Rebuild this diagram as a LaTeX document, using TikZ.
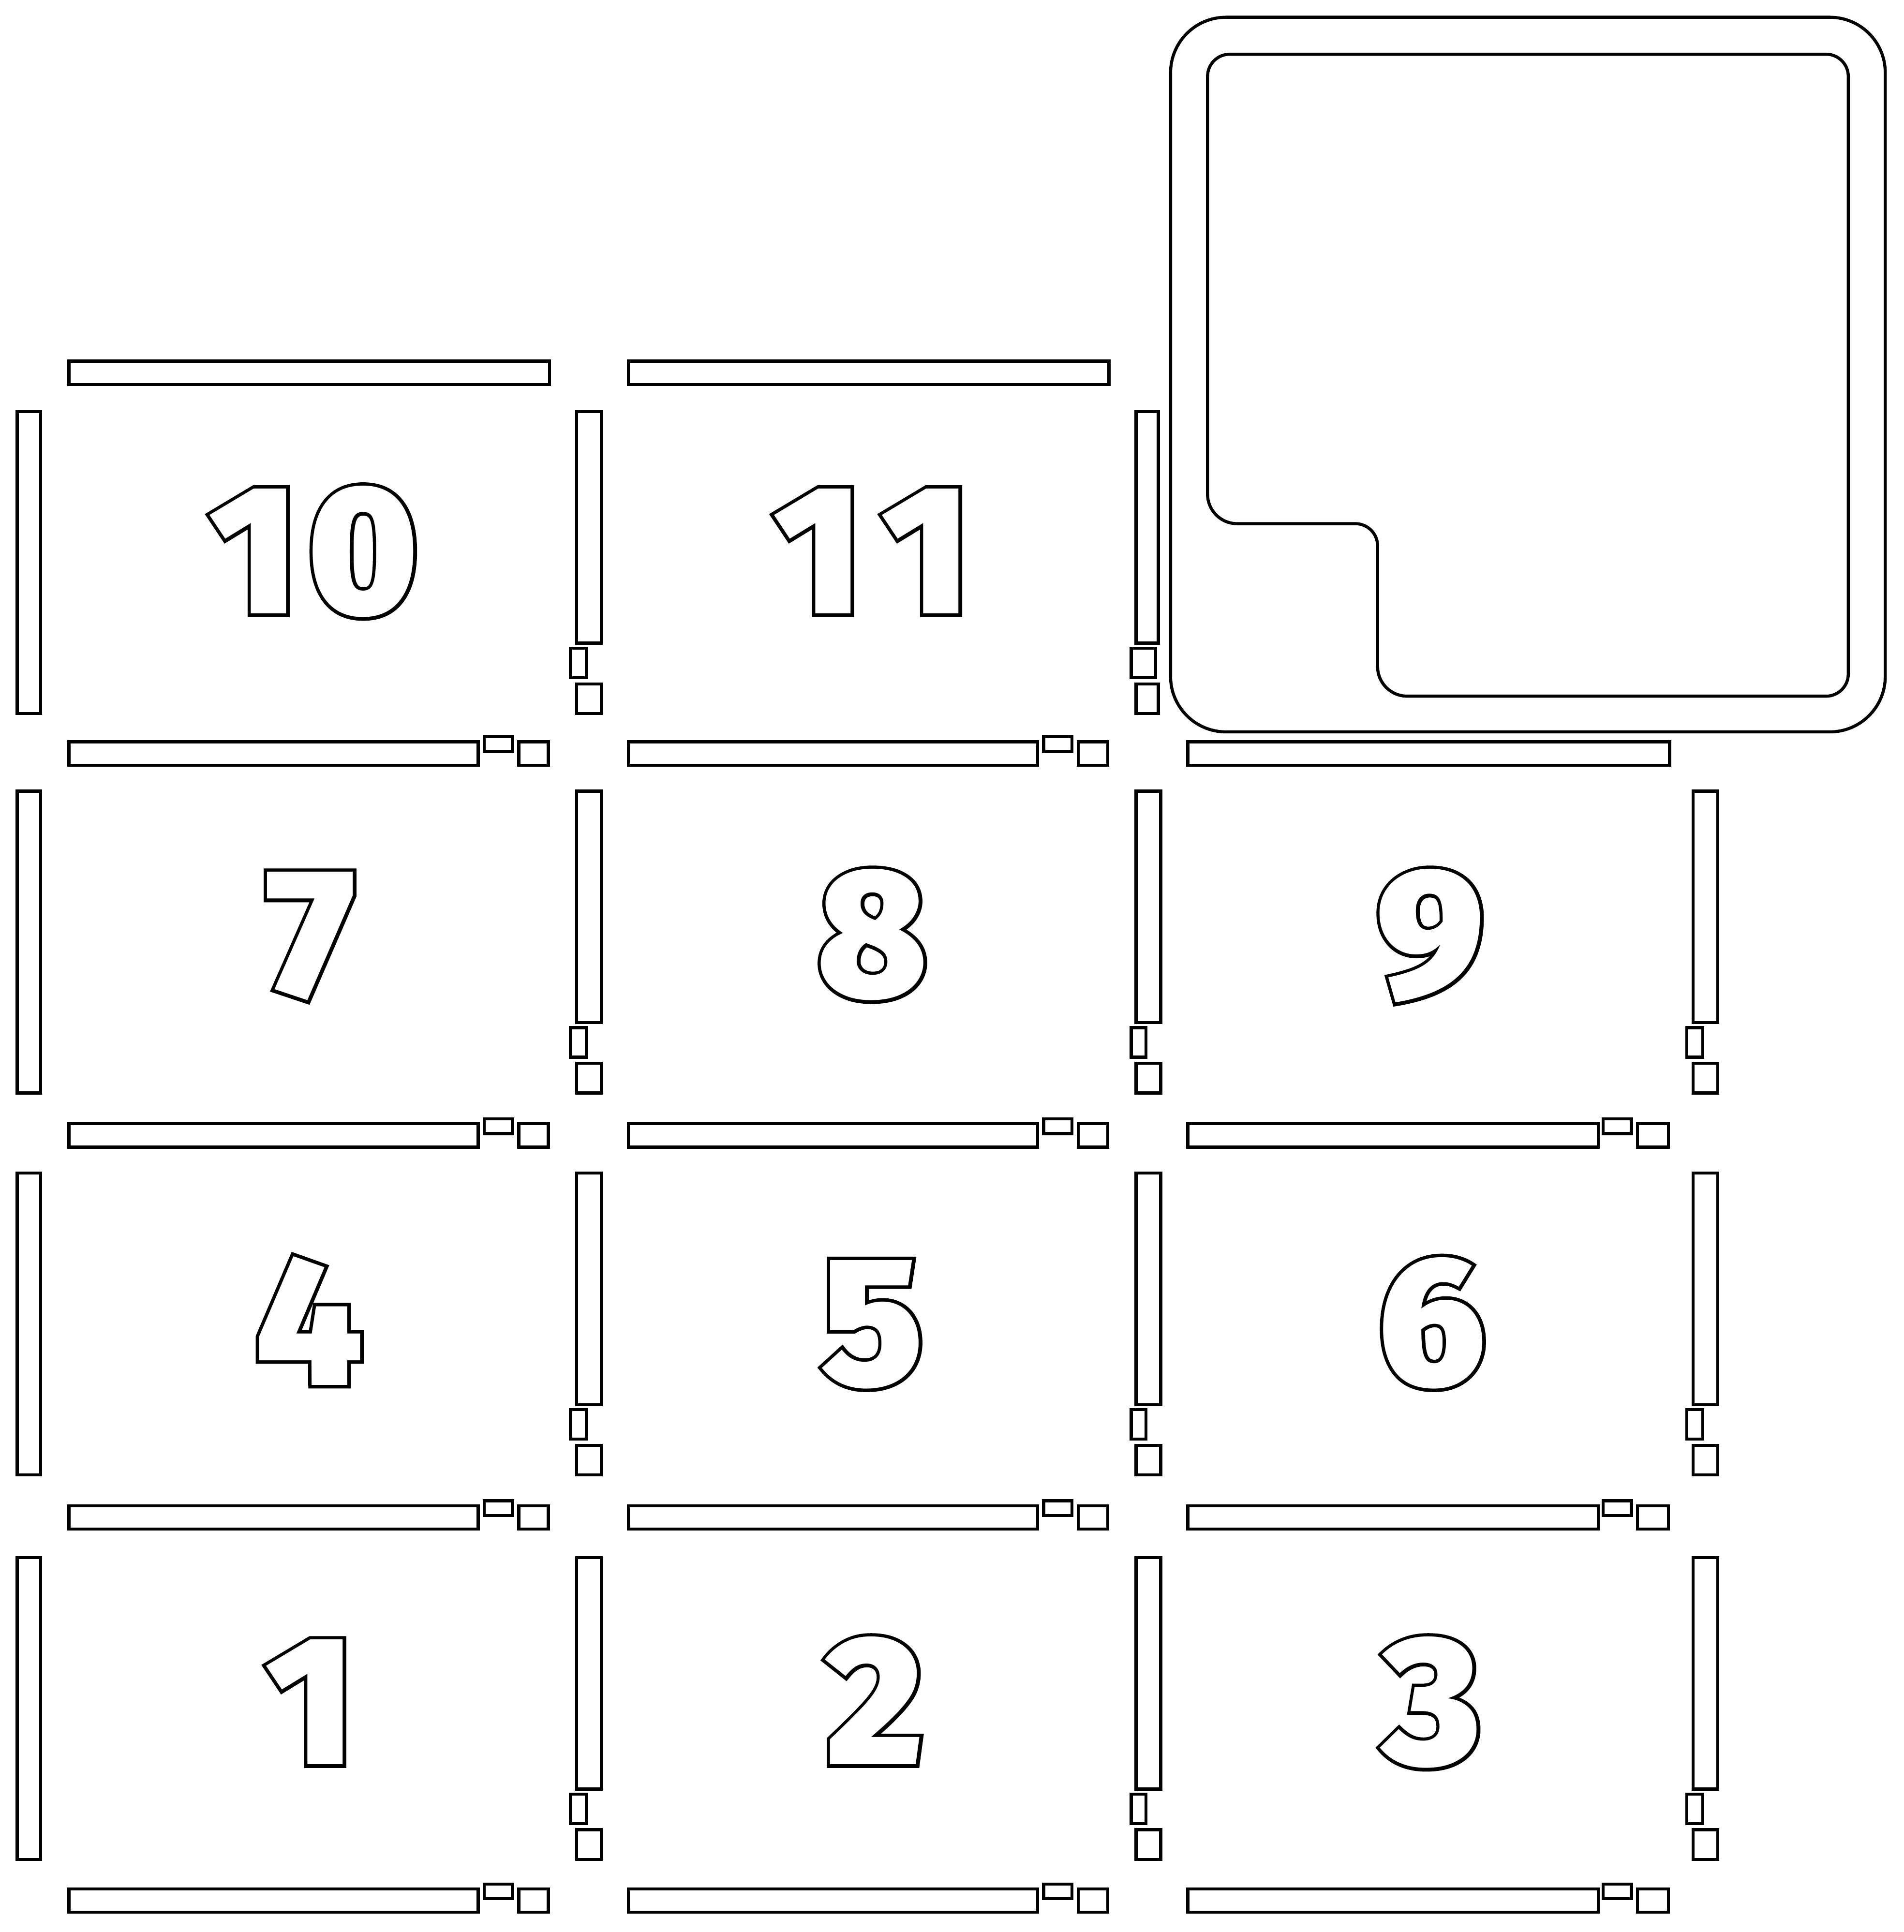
\documentclass[tikz,border=0pt]{standalone}
\usepackage{fontspec}
\newfontfamily\digitfont{Fira Sans Black}
\newfontfamily\digitbold{Fira Sans Black}[FakeBold=3.8]
\newcommand{\outl}[1]{\rlap{\digitbold\color{black}#1}{\digitfont\color{white}#1}}
\begin{document}
\begin{tikzpicture}[x=1pt,y=-1pt,
  part/.style={draw=black, fill=white, line width=2.5pt},
  numlabel/.style={inner sep=0pt, anchor=base, font=\fontsize{149}{155}\selectfont}]
\useasboundingbox (0,0) rectangle (1545,1568);

% big rounded box
\draw[part, rounded corners=45pt] (950,14) rectangle (1530,594);
\draw[part] (998,44) -- (1482,44) arc[start angle=-90,end angle=0,radius=18]
  -- (1500,547) arc[start angle=0,end angle=90,radius=18]
  -- (1142,565) arc[start angle=90,end angle=180,radius=24]
  -- (1118,443) arc[start angle=0,end angle=-90,radius=18]
  -- (1004,425) arc[start angle=90,end angle=180,radius=24]
  -- (980,62) arc[start angle=180,end angle=270,radius=18] -- cycle;

% top bars
\draw[part] (56,293) rectangle (446,312);
\draw[part] (510,293) rectangle (900,312);

% left bars
\foreach \T in {334,642,952,1264} {
  \draw[part] (14,\T) rectangle (33,\T+245);
}

% row 4 vertical pieces
\draw[part] (468,334) rectangle (488,522);
\draw[part] (463,526) rectangle (476,550);
\draw[part] (468,555) rectangle (488,579);
\draw[part] (922,334) rectangle (940,522);
\draw[part] (918,526) rectangle (938,550);
\draw[part] (922,555) rectangle (940,579);

% rows 1-3 vertical pieces
\foreach \T in {642,952,1264} {
  \foreach \xa/\xb/\sa/\sb in {468/488/463/476, 922/942/918/930, 1374/1394/1369/1382} {
    \draw[part] (\xa,\T) rectangle (\xb,\T+188);
    \draw[part] (\sa,\T+192) rectangle (\sb,\T+216);
    \draw[part] (\xa,\T+221) rectangle (\xb,\T+245);
  }
}

% bottom bars
\foreach \B in {602,912,1222,1533} {
  \foreach \c in {0,1} {
    \draw[part] (56+454*\c,\B) rectangle (388+454*\c,\B+19);
    \draw[part] (393+454*\c,\B-4) rectangle (416+454*\c,\B+8);
    \draw[part] (421+454*\c,\B) rectangle (445+454*\c,\B+19);
  }
}
\foreach \B in {912,1222,1533} {
  \draw[part] (964,\B) rectangle (1297,\B+19);
  \draw[part] (1301,\B-4) rectangle (1324,\B+8);
  \draw[part] (1329,\B) rectangle (1354,\B+19);
}
\draw[part] (964,602) rectangle (1355,621);

% digits
\node[numlabel] (n10) at (255,498) {\outl{1\kern8pt 0}};
\node[numlabel] (n11) at (708,498) {\outl{1\kern16pt 1}};
\node[numlabel] (n7) at (252,809) {\outl{7}};
\node[numlabel] (n8) at (708,809) {\outl{8}};
\node[numlabel] (n9) at (1161,809) {\outl{9}};
\node[numlabel] (n4) at (251,1124) {\outl{4}};
\node[numlabel] (n5) at (708,1124) {\outl{5}};
\node[numlabel] (n6) at (1162,1124) {\outl{6}};
\node[numlabel] (n1) at (252,1432) {\outl{1}};
\node[numlabel] (n2) at (710,1432) {\outl{2}};
\node[numlabel] (n3) at (1162,1432) {\outl{3}};
\end{tikzpicture}
\end{document}
